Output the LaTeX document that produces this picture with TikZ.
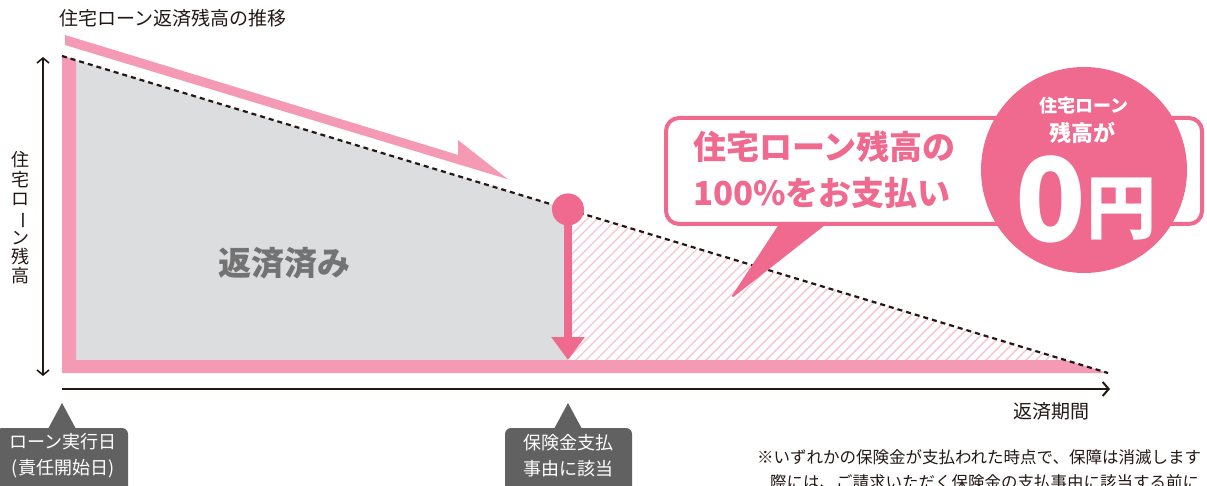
\documentclass[tikz,border=0pt]{standalone}
\usepackage{fontspec}
\usepackage{graphicx}
\newfontfamily\jp{Noto Sans CJK JP}
\usetikzlibrary{arrows.meta}
\definecolor{barpink}{HTML}{F49AB5}
\definecolor{deeppink}{HTML}{F0698F}
\definecolor{paidgray}{HTML}{DCDDDF}
\definecolor{hatchpink}{HTML}{F9C3D3}
\definecolor{ink}{HTML}{231815}
\definecolor{taggray}{HTML}{616161}
\definecolor{labelgray}{HTML}{737373}
\tikzset{
  plain/.style={inner sep=0pt, outer sep=0pt},
  inktext/.style={plain, text=ink},
  tagbox/.style={fill=taggray, rounded corners=6pt},
  tagtext/.style={plain, text=white, align=center, font=\jp\fontsize{18}{26}\selectfont},
  axis/.style={draw=ink, line width=1.6pt},
  mybarb/.tip={Straight Barb[length=5pt,width=12pt]}
}
\begin{document}
\begin{tikzpicture}[x=1pt,y=-1pt, font=\jp]
\useasboundingbox (0,0) rectangle (1207,486);
\clip (0,0) rectangle (1207,486);

% key coordinates
\coordinate (dl0) at (62,56);
\coordinate (dl1) at (1108,373);
\coordinate (pay) at (568,209.4);
\coordinate (barhit) at (568,360);
\coordinate (zeroend) at (1065,360);

% paid area
\fill[paidgray] (76,60.3) -- (pay) -- (barhit) -- (76,360) -- cycle;

% hatched remaining area
\begin{scope}
  \clip (pay) -- (zeroend) -- (barhit) -- cycle;
  \foreach \i in {0,...,72} {
    \draw[hatchpink, line width=1.4pt] (400+\i*10, 366) -- ++(170,-170);
  }
\end{scope}

% pink L bar
\fill[barpink] (62,55) -- (76,60.3) -- (76,360) -- (zeroend) -- (dl1) -- (62,373) -- cycle;

% dotted balance line
\draw[ink, line width=2.2pt, dash pattern=on 5pt off 4pt] (dl0) -- (dl1);

% trend arrow (harpoon)
\fill[barpink] (65,35) -- (458,154.9) -- (458,140) -- (508,179.3) -- (65,45) -- cycle;

% payment point
\node[plain, circle, fill=deeppink, minimum size=32pt] (dot) at (pay) {};
\draw[deeppink, line width=8pt, -{Triangle[length=23pt,width=32pt]}] (dot.center) -- (barhit);

% speech bubble
\node[plain, draw=deeppink, line width=4pt, fill=white, rounded corners=13pt,
      minimum width=536pt, minimum height=106pt] (bubble) at (934,171) {};
\coordinate (tailtip) at (733,296);
\fill[deeppink, draw=deeppink, line width=2pt, line join=round] (781,223) -- (826,223) -- (tailtip) -- cycle;
\node[plain, anchor=west, align=left, text=deeppink, font=\jp\bfseries\fontsize{33}{46}\selectfont] (msg) at (693,170) {住宅ローン残高の\\100\%をお支払い};

% zero-yen circle
\node[plain, circle, fill=deeppink, minimum size=206pt] (zero) at (1084,170) {};
\node[plain, text=white, font=\jp\bfseries\fontsize{18}{18}\selectfont] (z1) at (1084,106) {住宅ローン};
\node[plain, text=white, font=\jp\bfseries\fontsize{22}{22}\selectfont] (z2) at (1082,133) {残高が};
\node[plain, text=white, font=\jp\bfseries\fontsize{116}{116}\selectfont] (z3) at (1051,199) {0};
\node[plain, text=white, font=\jp\bfseries\fontsize{70}{70}\selectfont] (z4) at (1121,209) {円};

% axes
\coordinate (ytop) at (43,57);
\coordinate (ybot) at (43,376);
\draw[axis, mybarb-mybarb] (ytop) -- (ybot);
\coordinate (x0) at (62,389);
\coordinate (x1) at (1110,389);
\draw[axis, line width=2pt, -{Straight Barb[length=6pt,width=14pt]}] (x0) -- (x1);

% texts
\node[inktext, anchor=west, font=\jp\fontsize{19}{19}\selectfont] (title) at (59,18) {住宅ローン返済残高の推移};
\node[inktext, align=center, font=\jp\fontsize{18}{19.3}\selectfont] (ylab) at (20,218)
  {住\\宅\\ロ\\\rotatebox[origin=c]{-90}{ー}\\ン\\残\\高};
\node[inktext, font=\jp\fontsize{19}{19}\selectfont] (xlab) at (1051,411) {返済期間};
\node[plain, text=labelgray, font=\jp\bfseries\fontsize{33}{33}\selectfont] (paid) at (284,263) {返済済み};

% tags
\fill[tagbox] (-4,428) rectangle (128,500);
\fill[taggray] (48,429) -- (62,403) -- (76,429) -- cycle;
\node[tagtext] (tag1) at (63,456) {ローン実行日\\(責任開始日)};
\fill[tagbox] (505,428) rectangle (632,500);
\fill[taggray] (554,429) -- (568,403) -- (582,429) -- cycle;
\node[tagtext] (tag2) at (568.5,456) {保険金支払\\事由に該当};

% footnote
\node[inktext, anchor=west, font=\jp\fontsize{16.5}{16.5}\selectfont] (note1) at (757,457) {※いずれかの保険金が支払われた時点で、保障は消滅します};
\node[inktext, anchor=west, font=\jp\fontsize{16.5}{16.5}\selectfont] (note2) at (770,482) {際には、ご請求いただく保険金の支払事由に該当する前に};
\end{tikzpicture}
\end{document}
